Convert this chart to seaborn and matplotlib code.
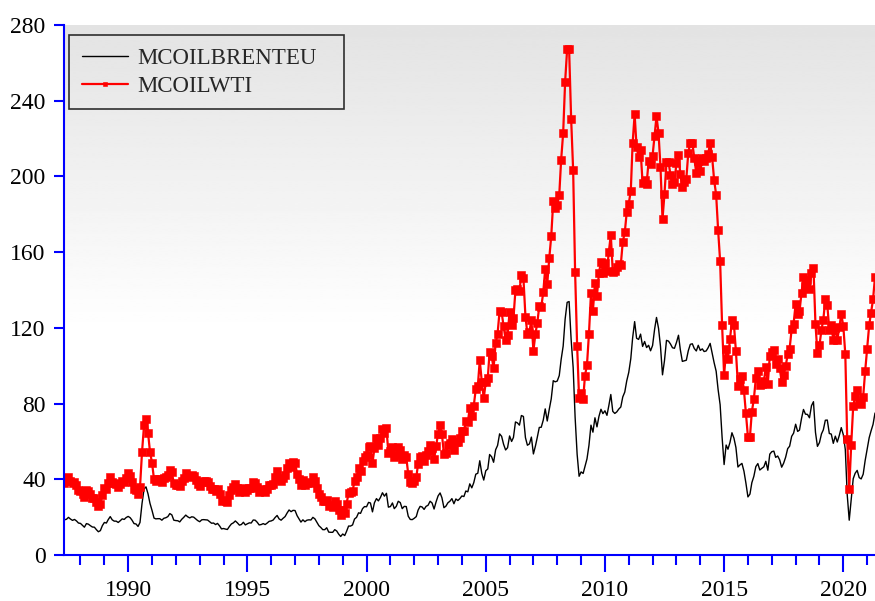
import numpy as np
import pandas as pd
import matplotlib
matplotlib.use("Agg")
import matplotlib.pyplot as plt
import matplotlib.dates as mdates
import seaborn as sns

# monthly prices, May 1987 - May 2021 (WTI is drawn stacked on top of Brent)
brent = [
    18.6, 18.9, 19.9, 19.0, 18.3, 18.8, 18.0, 16.9,
    16.7, 15.7, 14.7, 16.6, 16.3, 15.5, 14.8, 14.7, 13.4, 12.3, 12.9, 15.5,
    17.2, 16.9, 18.7, 20.3, 18.6, 17.9, 17.9, 17.2, 18.1, 19.1, 18.8, 19.8,
    20.4, 19.7, 18.4, 16.6, 16.4, 15.1, 17.2, 27.2, 34.9, 36.0, 32.3, 27.3,
    23.6, 19.5, 19.1, 19.2, 19.2, 18.4, 19.4, 19.7, 20.3, 21.9, 21.2, 18.4,
    18.2, 18.1, 17.5, 18.9, 19.9, 21.1, 20.2, 19.6, 20.2, 20.0, 19.1, 18.2,
    17.6, 18.6, 18.7, 18.6, 18.5, 17.6, 16.8, 16.9, 16.1, 16.7, 15.4, 13.8,
    14.0, 13.7, 13.5, 15.1, 16.4, 17.0, 18.0, 17.0, 15.8, 16.1, 17.3, 15.9,
    16.5, 17.0, 16.9, 18.5, 18.4, 17.3, 15.9, 16.1, 16.6, 16.1, 16.9, 17.8,
    18.0, 18.5, 19.8, 20.9, 19.1, 18.4, 19.4, 20.3, 22.2, 23.8, 22.9, 23.6,
    23.5, 20.8, 19.2, 17.4, 18.6, 17.6, 18.4, 18.6, 18.5, 19.9, 19.1, 17.3,
    15.5, 14.5, 13.4, 13.4, 14.4, 12.1, 12.0, 12.0, 13.4, 12.7, 11.0, 9.8,
    11.1, 10.3, 12.5, 15.3, 15.3, 15.9, 19.0, 19.9, 22.3, 22.0, 24.5, 25.6,
    25.5, 27.8, 27.5, 22.8, 27.6, 29.8, 28.6, 30.4, 32.9, 31.1, 32.6, 25.3,
    25.6, 27.5, 24.5, 25.7, 28.4, 27.7, 24.5, 25.7, 25.6, 20.5, 18.8, 18.7,
    19.4, 20.3, 23.7, 25.7, 25.4, 24.1, 25.7, 26.3, 28.4, 27.5, 24.3, 28.0,
    31.2, 32.8, 30.3, 25.0, 25.8, 27.6, 28.4, 29.8, 27.1, 29.6, 28.8, 29.8,
    31.2, 30.9, 33.8, 33.4, 37.6, 35.5, 38.2, 42.7, 43.2, 49.8, 43.1, 39.6,
    44.5, 45.5, 53.1, 51.9, 49.0, 55.6, 57.9, 64.0, 62.7, 58.5, 55.5, 56.7,
    62.9, 60.0, 62.1, 70.3, 69.8, 68.6, 73.7, 73.2, 62.0, 58.0, 58.7, 62.3,
    53.4, 57.6, 62.1, 67.4, 67.5, 71.3, 77.2, 70.8, 77.0, 82.5, 92.1, 91.5,
    91.9, 94.8, 103.3, 110.4, 124.6, 133.5, 133.9, 113.9, 99.1, 72.8, 53.2, 41.6,
    43.9, 43.1, 46.8, 50.8, 57.9, 68.6, 64.9, 72.5, 67.7, 73.2, 77.0, 74.7,
    76.2, 73.8, 78.8, 84.8, 75.9, 74.8, 75.6, 77.1, 78.2, 83.5, 86.1, 92.0,
    96.5, 103.7, 114.6, 123.3, 114.5, 113.9, 116.7, 110.2, 112.8, 109.6, 110.8, 107.9,
    110.7, 119.3, 125.5, 119.8, 110.3, 95.2, 102.6, 113.4, 113.0, 111.5, 109.5, 109.2,
    112.3, 116.1, 108.5, 102.3, 102.6, 102.9, 107.9, 111.3, 111.6, 109.1, 107.8, 110.8,
    108.1, 108.9, 107.5, 107.8, 109.5, 111.8, 106.8, 101.6, 97.1, 87.4, 79.4, 62.3,
    47.8, 58.1, 55.9, 59.5, 64.6, 61.7, 56.8, 46.5, 47.6, 48.4, 44.3, 38.0,
    30.7, 32.2, 38.2, 41.6, 46.7, 48.3, 44.9, 45.8, 46.6, 49.5, 44.8, 53.3,
    54.6, 54.9, 51.6, 52.3, 50.3, 46.4, 48.5, 51.7, 56.2, 57.5, 62.7, 64.4,
    69.1, 65.3, 66.0, 72.1, 76.9, 74.4, 74.3, 72.5, 78.9, 81.0, 64.8, 57.4,
    59.4, 64.0, 66.1, 71.2, 71.3, 64.2, 63.9, 59.0, 62.8, 59.7, 63.2, 67.3,
    63.6, 55.7, 32.0, 18.4, 29.4, 40.3, 43.2, 44.7, 40.9, 40.2, 42.7, 49.9,
    56.0, 62.0, 65.5, 69.0, 75.0,
]

wti = [
    19.3, 20.3, 21.3, 20.3, 19.5, 19.8, 18.9, 17.2,
    17.1, 16.7, 16.2, 17.9, 17.4, 16.5, 15.5, 15.5, 14.5, 13.8, 14.0, 16.3,
    18.0, 17.8, 19.4, 21.0, 20.0, 20.0, 19.6, 18.5, 19.6, 20.1, 19.8, 21.1,
    22.9, 22.1, 20.4, 18.4, 18.2, 16.9, 18.6, 27.2, 33.7, 35.9, 32.3, 27.3,
    25.2, 20.5, 19.9, 20.8, 21.2, 20.2, 21.4, 21.7, 21.9, 23.2, 22.5, 19.5,
    18.8, 19.0, 18.9, 20.2, 20.9, 22.4, 21.8, 21.4, 21.9, 21.7, 20.3, 19.4,
    19.1, 20.1, 20.3, 20.3, 19.9, 19.1, 17.9, 18.0, 17.5, 18.2, 16.7, 14.5,
    15.0, 14.8, 14.7, 16.4, 17.9, 19.1, 19.7, 18.4, 17.5, 17.7, 18.1, 17.2,
    18.0, 18.6, 18.5, 19.9, 19.7, 18.4, 17.3, 18.0, 18.2, 17.4, 18.0, 19.0,
    18.9, 19.1, 21.4, 23.6, 21.2, 20.5, 21.3, 21.9, 23.9, 24.9, 23.7, 25.4,
    25.1, 22.2, 20.9, 19.7, 20.8, 19.2, 19.6, 19.9, 19.8, 21.3, 20.2, 18.3,
    16.7, 16.1, 15.0, 15.4, 14.9, 13.7, 14.2, 13.5, 15.0, 14.4, 12.9, 11.3,
    12.5, 12.0, 14.7, 17.3, 17.8, 17.9, 20.1, 21.3, 23.9, 22.6, 25.0, 26.1,
    27.2, 29.4, 29.9, 25.7, 28.8, 31.8, 29.7, 31.2, 33.9, 33.1, 34.4, 28.5,
    29.6, 29.6, 27.2, 27.4, 28.6, 27.6, 26.4, 27.4, 26.2, 22.2, 19.6, 19.4,
    19.7, 20.7, 24.4, 26.3, 27.0, 25.5, 26.9, 28.4, 29.7, 28.8, 26.3, 29.4,
    32.9, 35.9, 33.6, 28.3, 28.1, 30.7, 30.8, 31.6, 28.3, 30.3, 31.1, 32.2,
    34.3, 34.7, 36.8, 36.7, 40.3, 38.0, 40.7, 44.9, 45.9, 53.1, 48.5, 43.3,
    46.8, 48.0, 54.3, 53.0, 49.8, 56.3, 59.0, 65.0, 65.6, 62.4, 58.3, 59.4,
    65.5, 61.6, 62.9, 69.7, 70.9, 71.0, 74.4, 73.1, 63.9, 58.9, 59.1, 62.0,
    54.5, 59.3, 60.4, 64.0, 63.5, 67.5, 74.1, 72.4, 79.9, 85.8, 94.8, 91.7,
    93.0, 95.4, 105.5, 112.6, 125.4, 133.9, 133.4, 116.7, 104.1, 76.6, 57.3, 41.1,
    41.7, 39.1, 47.9, 49.7, 59.0, 69.6, 64.2, 71.1, 69.4, 75.7, 78.0, 74.5,
    78.3, 76.4, 81.2, 84.3, 73.7, 75.3, 76.3, 76.6, 75.2, 81.9, 84.3, 89.2,
    89.2, 88.6, 102.9, 109.5, 100.9, 96.3, 97.3, 86.3, 85.5, 86.3, 97.2, 98.6,
    100.3, 102.2, 106.2, 103.3, 94.7, 82.3, 87.9, 94.1, 94.5, 89.5, 86.5, 87.9,
    94.8, 95.3, 92.9, 92.0, 94.5, 95.8, 104.6, 106.6, 106.3, 100.5, 93.9, 97.6,
    94.6, 100.8, 100.8, 102.1, 102.2, 105.8, 103.6, 96.5, 93.2, 84.4, 75.8, 59.3,
    47.2, 50.6, 47.8, 54.5, 59.3, 59.8, 50.9, 42.9, 45.5, 46.2, 42.7, 37.2,
    31.7, 30.3, 37.5, 40.8, 46.7, 48.8, 44.7, 44.7, 45.2, 49.8, 45.7, 52.0,
    52.5, 53.5, 49.3, 51.1, 48.5, 45.2, 46.6, 48.0, 49.8, 51.6, 56.6, 57.9,
    63.7, 62.2, 62.7, 66.3, 70.0, 67.9, 71.0, 68.1, 70.2, 70.8, 57.0, 49.5,
    51.4, 55.0, 58.2, 63.9, 60.8, 54.7, 57.4, 54.8, 57.0, 54.0, 57.0, 59.9,
    57.5, 50.5, 29.2, 16.6, 28.6, 38.3, 40.7, 42.3, 39.6, 39.4, 41.0, 47.1,
    53.0, 59.5, 62.5, 66.0, 72.0,
]

first_month = "1987-05-01"
y_ticks = [0, 40, 80, 120, 160, 200, 240, 280]

dates = pd.date_range(first_month, periods=len(brent), freq="MS")
df = pd.DataFrame({"date": dates, "brent": brent, "wti": wti})
df["wti_stacked"] = df["brent"] + df["wti"]

sns.set_style("ticks")
plt.rcParams["font.family"] = ["Liberation Serif", "DejaVu Serif"]

fig = plt.figure(figsize=(8.75, 6.01), dpi=100)
pos = [0.0737, 0.0765, 0.9263, 0.8819]

# grey-to-white fade behind the plot
bg = fig.add_axes(pos, zorder=0)
fade = np.clip(np.linspace(0, 1, 300) / 0.58, 0, 1)
shade = 0.89 + 0.11 * fade
bg.imshow(shade.reshape(-1, 1), cmap="gray", vmin=0, vmax=1, aspect="auto",
          extent=[0, 1, 0, 1], interpolation="bilinear")
bg.axis("off")

ax = fig.add_axes(pos, zorder=1)
ax.patch.set_alpha(0)

sns.lineplot(data=df, x="date", y="brent", color="black", lw=1.0,
             label="MCOILBRENTEU", ax=ax)
sns.lineplot(data=df, x="date", y="wti_stacked", color="red", lw=1.6,
             marker="s", markersize=5.2, markeredgecolor="red", markeredgewidth=0.4,
             label="MCOILWTI", ax=ax)

ax.set_xlim(dates[0], dates[-1])
ax.set_ylim(0, 280)
ax.set_yticks(y_ticks)
ax.set_xlabel("")
ax.set_ylabel("")

ax.xaxis.set_major_locator(mdates.YearLocator(5))
ax.xaxis.set_minor_locator(mdates.YearLocator(1))
ax.xaxis.set_major_formatter(mdates.DateFormatter("%Y"))

ax.tick_params(axis="x", which="major", length=12, width=1.5, color="blue",
               labelsize=17, pad=6, labelcolor="black")
ax.tick_params(axis="x", which="minor", length=7, width=1.5, color="blue")
ax.tick_params(axis="y", length=7.5, width=1.5, color="blue",
               labelsize=17, pad=6, labelcolor="black")

for side in ["top", "right"]:
    ax.spines[side].set_visible(False)
for side in ["left", "bottom"]:
    ax.spines[side].set_color("blue")
    ax.spines[side].set_linewidth(1.5)

leg = ax.legend(loc="upper left", bbox_to_anchor=(0.006, 0.5, 0.339, 0.481),
                mode="expand", borderaxespad=0, fontsize=16.5, frameon=True,
                fancybox=False, handlelength=2.0, handletextpad=0.4,
                labelspacing=0.3, borderpad=0.55, markerscale=0.6)
leg.get_frame().set_edgecolor("black")
leg.get_frame().set_linewidth(1.2)
leg.get_frame().set_facecolor("none")

plt.savefig("out.png", dpi=100)
